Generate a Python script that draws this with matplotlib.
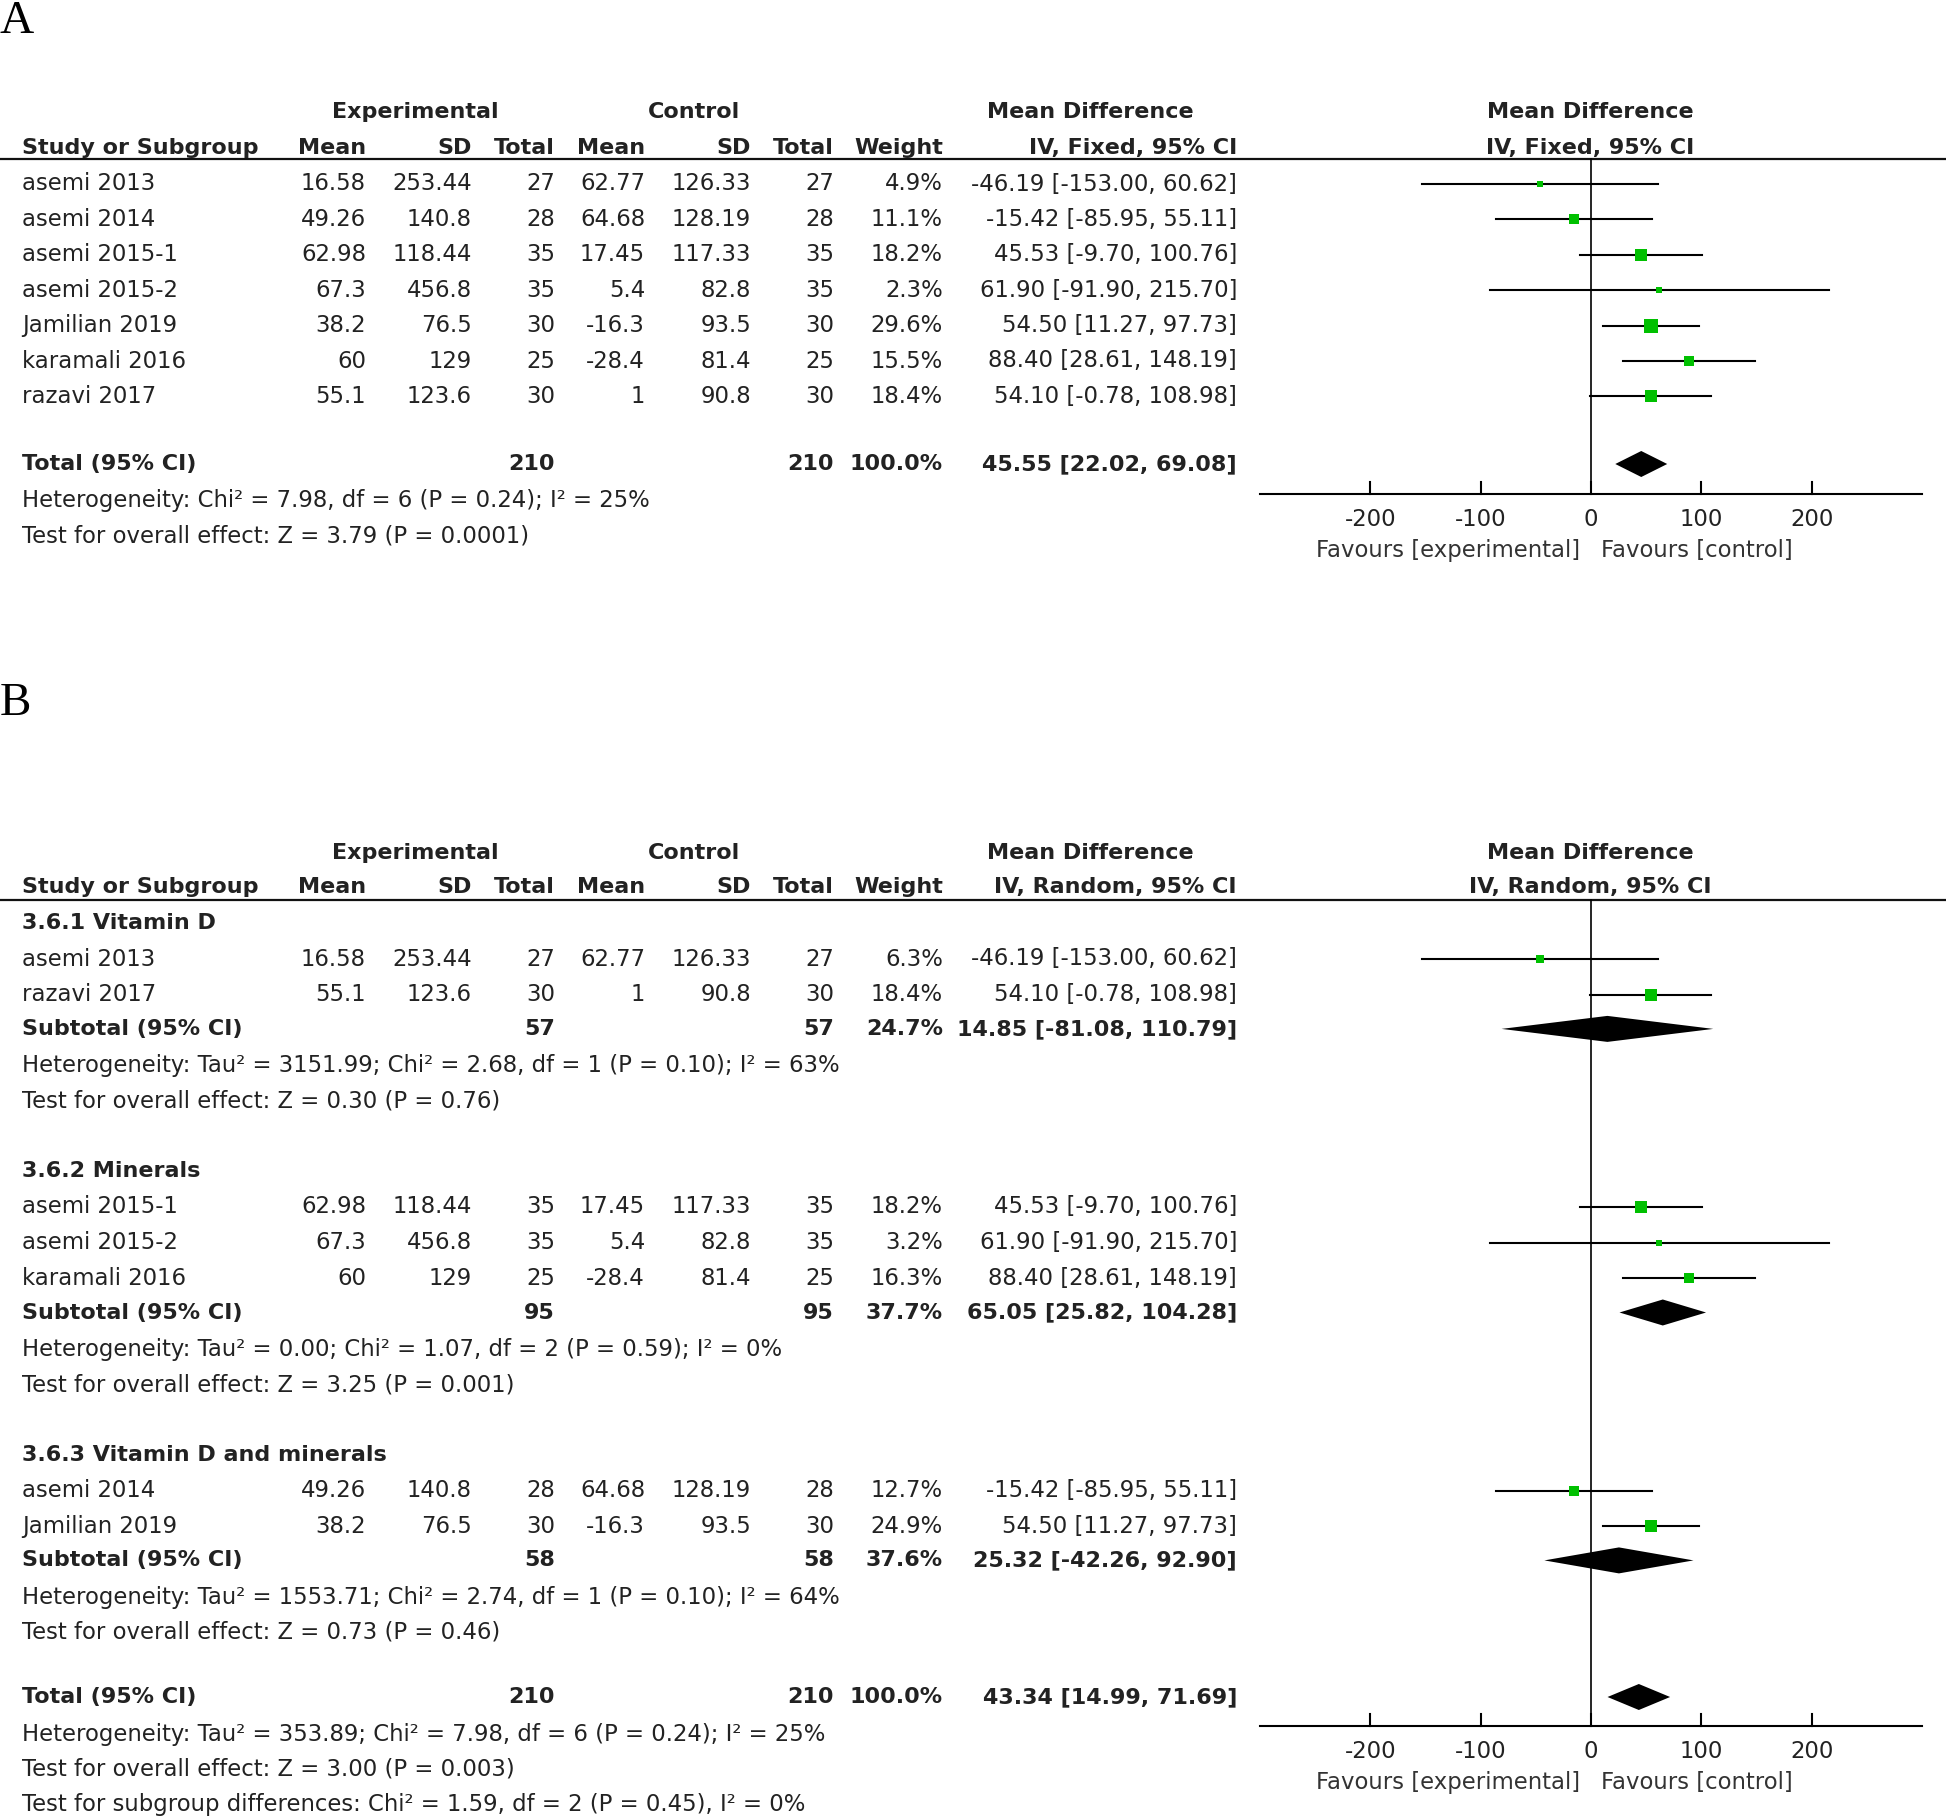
import numpy as np
import matplotlib
matplotlib.use('Agg')
import matplotlib.pyplot as plt
from matplotlib.patches import Polygon

plt.rcParams['font.family'] = ['DejaVu Sans']

W, H, DPI = 1946, 1817, 100
TXT = '#222222'
GREEN = '#00C000'
FS = 16.4      # regular text
FSB = 16       # bold text

# ── data: panel A (fixed effect) ──────────────────────────────────────────────
studies_a  = ['asemi 2013', 'asemi 2014', 'asemi 2015-1', 'asemi 2015-2',
              'Jamilian 2019', 'karamali 2016', 'razavi 2017']
exp_mean   = [16.58, 49.26, 62.98, 67.3, 38.2, 60, 55.1]
exp_sd     = [253.44, 140.8, 118.44, 456.8, 76.5, 129, 123.6]
exp_n      = [27, 28, 35, 35, 30, 25, 30]
ctl_mean   = [62.77, 64.68, 17.45, 5.4, -16.3, -28.4, 1]
ctl_sd     = [126.33, 128.19, 117.33, 82.8, 93.5, 81.4, 90.8]
ctl_n      = [27, 28, 35, 35, 30, 25, 30]
md         = [-46.19, -15.42, 45.53, 61.90, 54.50, 88.40, 54.10]
md_lo      = [-153.00, -85.95, -9.70, -91.90, 11.27, 28.61, -0.78]
md_hi      = [60.62, 55.11, 100.76, 215.70, 97.73, 148.19, 108.98]
weight_a   = [4.9, 11.1, 18.2, 2.3, 29.6, 15.5, 18.4]
total_a    = (45.55, 22.02, 69.08)
het_a      = 'Heterogeneity: Chi² = 7.98, df = 6 (P = 0.24); I² = 25%'
test_a     = 'Test for overall effect: Z = 3.79 (P = 0.0001)'

# ── data: panel B (random effects, subgroups) ─────────────────────────────────
sub_names  = ['3.6.1 Vitamin D', '3.6.2 Minerals', '3.6.3 Vitamin D and minerals']
sub_studies = [['asemi 2013', 'razavi 2017'],
               ['asemi 2015-1', 'asemi 2015-2', 'karamali 2016'],
               ['asemi 2014', 'Jamilian 2019']]
weight_b   = {'asemi 2013': 6.3, 'razavi 2017': 18.4, 'asemi 2015-1': 18.2,
              'asemi 2015-2': 3.2, 'karamali 2016': 16.3, 'asemi 2014': 12.7,
              'Jamilian 2019': 24.9}
sub_n      = [57, 95, 58]
sub_weight = [24.7, 37.7, 37.6]
sub_md     = [14.85, 65.05, 25.32]
sub_lo     = [-81.08, 25.82, -42.26]
sub_hi     = [110.79, 104.28, 92.90]
sub_het    = ['Heterogeneity: Tau² = 3151.99; Chi² = 2.68, df = 1 (P = 0.10); I² = 63%',
              'Heterogeneity: Tau² = 0.00; Chi² = 1.07, df = 2 (P = 0.59); I² = 0%',
              'Heterogeneity: Tau² = 1553.71; Chi² = 2.74, df = 1 (P = 0.10); I² = 64%']
sub_test   = ['Test for overall effect: Z = 0.30 (P = 0.76)',
              'Test for overall effect: Z = 3.25 (P = 0.001)',
              'Test for overall effect: Z = 0.73 (P = 0.46)']
total_b    = (43.34, 14.99, 71.69)
foot_b     = ['Heterogeneity: Tau² = 353.89; Chi² = 7.98, df = 6 (P = 0.24); I² = 25%',
              'Test for overall effect: Z = 3.00 (P = 0.003)',
              'Test for subgroup differences: Chi² = 1.59, df = 2 (P = 0.45), I² = 0%']

ticks = [-200, -100, 0, 100, 200]

# ── layout ────────────────────────────────────────────────────────────────────
COLS = [366, 472, 555, 645, 751, 834, 943, 1237]   # right edges of table columns
X0 = 22
FX0, FX1 = 1260, 1922                               # forest axis pixel span

fig = plt.figure(figsize=(W / DPI, H / DPI), dpi=DPI)
ax = fig.add_axes([0, 0, 1, 1])
ax.set_xlim(0, W); ax.set_ylim(H, 0); ax.axis('off')
fx = fig.add_axes([FX0 / W, 0, (FX1 - FX0) / W, 1])
fx.set_xlim(-300, 300); fx.set_ylim(H, 0); fx.axis('off')

idx = {s: i for i, s in enumerate(studies_a)}


def t(x, y, s, ha='left', bold=False, color=TXT):
    ax.text(x, y, s, ha=ha, va='center', fontsize=FSB if bold else FS,
            color=color, fontweight='bold' if bold else 'normal')


def ci_str(m, lo, hi):
    return f'{m:.2f} [{lo:.2f}, {hi:.2f}]'


def header(y1, y2, yline, model):
    t(415, y1, 'Experimental', 'center', True)
    t(694, y1, 'Control', 'center', True)
    t(1090, y1, 'Mean Difference', 'center', True)
    t(1590, y1, 'Mean Difference', 'center', True)
    t(X0, y2, 'Study or Subgroup', bold=True)
    for x, s in zip(COLS, ['Mean', 'SD', 'Total', 'Mean', 'SD', 'Total', 'Weight',
                           f'IV, {model}, 95% CI']):
        t(x, y2, s, 'right', True)
    t(1590, y2, f'IV, {model}, 95% CI', 'center', True)
    ax.plot([0, W], [yline, yline], color='#111111', lw=1.6)


def study_row(y, name, w):
    i = idx[name]
    vals = [format(exp_mean[i], 'g'), format(exp_sd[i], 'g'), str(exp_n[i]),
            format(ctl_mean[i], 'g'), format(ctl_sd[i], 'g'), str(ctl_n[i]),
            f'{w:.1f}%', ci_str(md[i], md_lo[i], md_hi[i])]
    t(X0, y, name)
    for x, s in zip(COLS, vals):
        t(x, y, s, 'right')
    fx.plot([md_lo[i], md_hi[i]], [y, y], color='black', lw=1.5, clip_on=False)
    side = (2.2 * np.sqrt(w) + 2) * 72 / DPI
    fx.scatter([md[i]], [y], marker='s', s=side ** 2, color=GREEN, lw=0,
               zorder=3, clip_on=False)


def diamond(y, m, lo, hi, h=13):
    fx.add_patch(Polygon([(lo, y), (m, y - h), (hi, y), (m, y + h)],
                         closed=True, color='black', lw=0, zorder=3, clip_on=False))


def summary_row(y, label, n1, n2, w, m, lo, hi):
    t(X0, y, label, bold=True)
    t(COLS[2], y, str(n1), 'right', True)
    t(COLS[5], y, str(n2), 'right', True)
    t(COLS[6], y, f'{w:.1f}%', 'right', True)
    t(COLS[7], y, ci_str(m, lo, hi), 'right', True)
    diamond(y, m, lo, hi)


def forest_axis(ytop, yax):
    fx.plot([0, 0], [ytop, yax], color='black', lw=1.2, clip_on=False)
    fx.plot([-300, 300], [yax, yax], color='black', lw=1.5, clip_on=False)
    for tk in ticks:
        fx.plot([tk, tk], [yax, yax - 12], color='black', lw=1.5, clip_on=False)
        fx.text(tk, yax + 25, str(tk), ha='center', va='center', fontsize=FS,
                color=TXT)
    fx.text(-10, yax + 57, 'Favours [experimental]', ha='right', va='center',
            fontsize=FS, color='#333333')
    fx.text(9, yax + 57, 'Favours [control]', ha='left', va='center',
            fontsize=FS, color='#333333')


# ── panel A ───────────────────────────────────────────────────────────────────
ax.text(0, 22, 'A', ha='left', va='center', fontsize=34, family='Liberation Serif',
        color='black')
header(112, 148, 159, 'Fixed')
for k, name in enumerate(studies_a):
    study_row(184 + k * 35.4, name, weight_a[k])
summary_row(464, 'Total (95% CI)', sum(exp_n), sum(ctl_n), 100.0, *total_a)
t(X0, 501, het_a)
t(X0, 536, test_a)
forest_axis(159, 494)

# ── panel B ───────────────────────────────────────────────────────────────────
ax.text(0, 704, 'B', ha='left', va='center', fontsize=34, family='Liberation Serif',
        color='black')
header(853, 887, 900, 'Random')
y = 923
for g, gname in enumerate(sub_names):
    t(X0, y, gname, bold=True)
    y += 36
    for name in sub_studies[g]:
        study_row(y, name, weight_b[name])
        y += 35.7
    y -= 1.5
    summary_row(y, 'Subtotal (95% CI)', sub_n[g], sub_n[g], sub_weight[g],
                sub_md[g], sub_lo[g], sub_hi[g])
    t(X0, y + 37, sub_het[g])
    t(X0, y + 72, sub_test[g])
    y += 142
y = 1697
summary_row(y, 'Total (95% CI)', sum(exp_n), sum(ctl_n), 100.0, *total_b)
for k, s in enumerate(foot_b):
    t(X0, 1734 + k * 35, s)
forest_axis(900, 1726)

fig.savefig('out.png', dpi=DPI)
